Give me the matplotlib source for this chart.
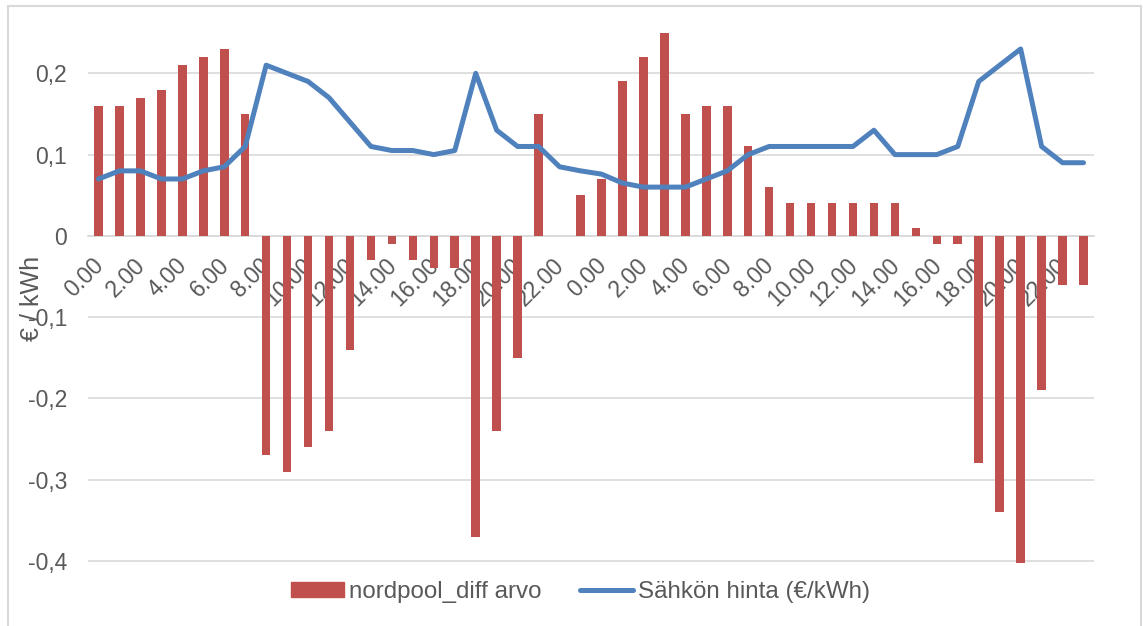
import numpy as np
import matplotlib.pyplot as plt
from matplotlib.patches import Patch, Rectangle
from matplotlib.lines import Line2D
import matplotlib.transforms as mtransforms

plt.rcParams['font.family'] = ['Liberation Sans', 'DejaVu Sans']

# two days, hourly
hours = [f"{h}.00" for h in range(24)] * 2

# nordpool_diff arvo (bars)
diff = [0.16, 0.16, 0.17, 0.18, 0.21, 0.22, 0.23, 0.15,
        -0.27, -0.29, -0.26, -0.24, -0.14, -0.03, -0.01, -0.03,
        -0.04, -0.04, -0.37, -0.24, -0.15, 0.15, 0.0, 0.05,
        0.07, 0.19, 0.22, 0.25, 0.15, 0.16, 0.16, 0.11,
        0.06, 0.04, 0.04, 0.04, 0.04, 0.04, 0.04, 0.01,
        -0.01, -0.01, -0.28, -0.34, -0.403, -0.19, -0.06, -0.06]

# Sähkön hinta (line)
price = [0.07, 0.08, 0.08, 0.07, 0.07, 0.08, 0.085, 0.11,
         0.21, 0.20, 0.19, 0.17, 0.14, 0.11, 0.105, 0.105,
         0.10, 0.105, 0.20, 0.13, 0.11, 0.11, 0.085, 0.08,
         0.076, 0.065, 0.06, 0.06, 0.06, 0.07, 0.08, 0.10,
         0.11, 0.11, 0.11, 0.11, 0.11, 0.13, 0.10, 0.10,
         0.10, 0.11, 0.19, 0.21, 0.23, 0.11, 0.09, 0.09]

yticks = [-0.4, -0.3, -0.2, -0.1, 0, 0.1, 0.2]
ytick_labels = ["-0,4", "-0,3", "-0,2", "-0,1", "0", "0,1", "0,2"]

red = '#C0504D'
blue = '#4F81BD'
grey_txt = '#595959'
grid_c = '#D9D9D9'
fs = 16.5

W, H = 1143, 626
fig = plt.figure(figsize=(W / 100, H / 100), dpi=100)
ax = fig.add_axes([88 / W, 1 - 565 / H, (1094 - 88) / W, (565 - 32.7) / H])

x = np.arange(len(diff))
ax.bar(x, diff, width=0.41, color=red, zorder=2)
ax.plot(x, price, color=blue, lw=3.6, zorder=3, solid_joinstyle='round', solid_capstyle='round')

ax.set_xlim(-0.5, len(diff) - 0.5)
ax.set_ylim(-0.405, 0.25)
ax.set_yticks(yticks)
ax.set_yticklabels(ytick_labels)
ax.yaxis.grid(True, color=grid_c, lw=1.2, zorder=0)
ax.set_axisbelow(True)

for s in ['top', 'right', 'left']:
    ax.spines[s].set_visible(False)
ax.spines['bottom'].set_position(('data', 0))
ax.spines['bottom'].set_color(grid_c)
ax.spines['bottom'].set_linewidth(1.2)
ax.spines['bottom'].set_zorder(1)

ax.set_xticks(x[::2])
ax.set_xticklabels(hours[::2], rotation=45, ha='right', va='top', rotation_mode='anchor')
ax.tick_params(axis='x', length=0, pad=13, labelsize=fs, labelcolor=grey_txt)
ax.tick_params(axis='y', length=0, pad=15, labelsize=fs, labelcolor=grey_txt)
offset = mtransforms.ScaledTranslation(-7 / 100, 0, fig.dpi_scale_trans)
for lab in ax.get_xticklabels():
    lab.set_transform(lab.get_transform() + offset)

ax.set_ylabel('€ / kWh', fontsize=18, color=grey_txt)
ax.yaxis.set_label_coords(-0.044, 0.5)

handles = [Patch(color=red), Line2D([0], [0], color=blue, lw=3.6, solid_capstyle='round')]
fig.legend(handles, ['nordpool_diff arvo', 'Sähkön hinta (€/kWh)'],
           loc='center', bbox_to_anchor=(0.508, 1 - 592 / H), ncol=2, frameon=False,
           fontsize=17.4, labelcolor=grey_txt, handlelength=2.2, handleheight=0.55,
           handletextpad=0.2, columnspacing=1.6)

# chart border
fig.patches.append(Rectangle((8 / W, -0.01), (1141 - 8) / W, 1.01 - 6 / H,
                             transform=fig.transFigure, fill=False,
                             edgecolor=grid_c, lw=1.5))

fig.savefig('out.png', dpi=100)
